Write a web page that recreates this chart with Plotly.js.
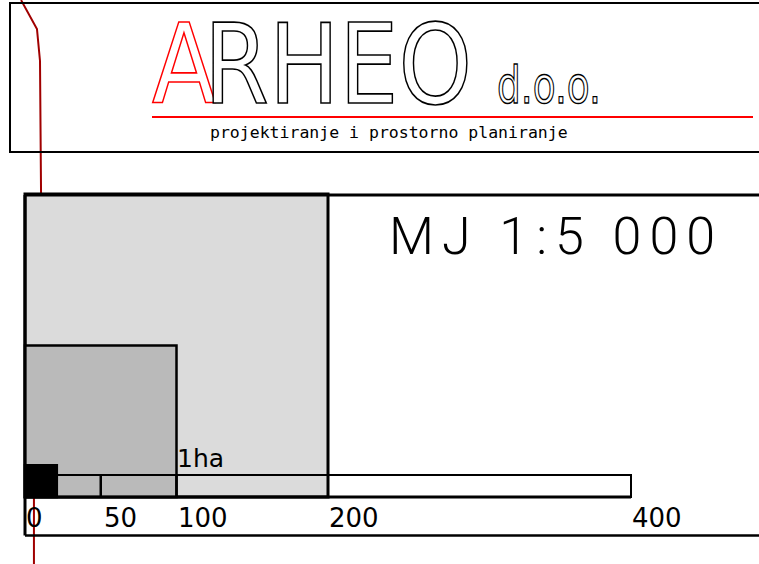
<!DOCTYPE html>
<html><head><meta charset="utf-8">
<script src="https://cdn.plot.ly/plotly-3.0.1.min.js"></script>
<style>
html,body{margin:0;padding:0;background:#fff;}
#chart{width:759px;height:564px;}
.annotation[data-index="0"] text{fill:#fff !important;stroke:#000;stroke-width:1.7px;transform-box:fill-box;transform-origin:0 50%;transform:scaleX(0.85);}
.annotation[data-index="0"] tspan{fill:#fff !important;}
.annotation[data-index="0"] tspan[style*="fill"]{stroke:#ff0000;letter-spacing:-14px;}
.annotation[data-index="1"] text{fill:#fff !important;stroke:#000;stroke-width:1.4px;transform-box:fill-box;transform-origin:0 50%;transform:scaleX(0.72);}
.annotation[data-index="3"] text{letter-spacing:8px;}
</style></head><body><div id="chart"></div>
<script>
// ---- data (metres) ----
const squareSides = [200, 100, 21];            // 4 ha, 1 ha and small reference square
const squareFills = ['#dbdbdb', '#bababa', '#000000'];
const scaleTicks = [0, 50, 100, 200, 400];
const scaleTickLabels = ['0', '50', '100', '200', '400'];
const barDividers = [50, 100];
const barLength = 400;
const barHeight = 14.5;
const areaLabel = '1ha';
const areaLabelPos = [100, 25.3];
const boundaryX = [-2.6, 7.9, 9.9, 10.6, 5.9, 5.9];
const boundaryY = [328, 308.9, 287.8, 199.3, 0, -44.5];

// ---- layout helpers (pixel -> paper) ----
const W = 759, H = 564, K = 1.515, X0 = 25, Y0 = 497;
const px = p => p / W, py = p => 1 - p / H;

const shapes = [];
// header frame
shapes.push({type:'rect', xref:'paper', yref:'paper', x0:px(10), x1:px(790), y0:py(152), y1:py(3), line:{color:'#000', width:2}});
shapes.push({type:'line', xref:'paper', yref:'paper', x0:px(152), x1:px(753), y0:py(117), y1:py(117), line:{color:'#ff0000', width:2}});
// squares
squareSides.forEach((s, i) => shapes.push({type:'rect', xref:'x', yref:'y', x0:0, x1:s, y0:0, y1:s,
  fillcolor:squareFills[i], line:{color:'#000', width: i === 0 ? 3 : 2.5}, layer:'above'}));
// scale bar
shapes.push({type:'rect', xref:'x', yref:'y', x0:0, x1:barLength, y0:0, y1:barHeight, line:{color:'#000', width:2}, layer:'above'});
barDividers.forEach(d => shapes.push({type:'line', xref:'x', yref:'y', x0:d, x1:d, y0:0, y1:barHeight, line:{color:'#000', width:2.5}, layer:'above'}));
shapes.push({type:'line', xref:'x', yref:'y', x0:0, x1:barLength, y0:0, y1:0, line:{color:'#000', width:3}, layer:'above'});
// lower frame
shapes.push({type:'line', xref:'paper', yref:'paper', x0:px(25), x1:px(790), y0:py(195), y1:py(195), line:{color:'#000', width:3}, layer:'above'});
shapes.push({type:'line', xref:'paper', yref:'paper', x0:px(25), x1:px(25), y0:py(195), y1:py(535.5), line:{color:'#000', width:3}, layer:'above'});
shapes.push({type:'line', xref:'paper', yref:'paper', x0:px(25), x1:px(790), y0:py(535.5), y1:py(535.5), line:{color:'#000', width:2.5}, layer:'above'});

const annotations = [
  {text:'<span style="color:#ff0000">A</span>RHEO', xref:'paper', yref:'paper', x:px(145), y:py(1), xanchor:'left', yanchor:'top', showarrow:false,
   font:{family:'DejaVu Sans', size:110, color:'#000'}},
  {text:'d.o.o.', xref:'paper', yref:'paper', x:px(497), y:py(54.7), xanchor:'left', yanchor:'top', showarrow:false,
   font:{family:'DejaVu Sans', size:52, color:'#000'}},
  {text:'projektiranje i prostorno planiranje', xref:'paper', yref:'paper', x:px(210), y:py(132), xanchor:'left', yanchor:'middle', showarrow:false,
   font:{family:'DejaVu Sans Mono', size:16.5, color:'#000'}},
  {text:'MJ 1:5 000', xref:'paper', yref:'paper', x:px(556), y:py(236.5), xanchor:'center', yanchor:'middle', showarrow:false,
   font:{family:'Roboto', size:52, color:'#000', weight:300}},
  {text:areaLabel, xref:'x', yref:'y', x:areaLabelPos[0], y:areaLabelPos[1], xanchor:'left', yanchor:'middle', showarrow:false,
   font:{family:'DejaVu Sans', size:25, color:'#000'}}
];
scaleTicks.forEach((t, i) => annotations.push({text:scaleTickLabels[i], xref:'x', yref:'y', x:t, y:-13.9, xshift: t === 50 ? 3 : 1,
  xanchor:'left', yanchor:'middle', showarrow:false, font:{family:'DejaVu Sans', size:26, color:'#000'}}));
annotations.forEach(a => { a.borderpad = 0; a.borderwidth = 0; });

const traces = [{x:boundaryX, y:boundaryY, mode:'lines', line:{color:'#a00000', width:2}, hoverinfo:'skip', showlegend:false}];

const layout = {
  width:W, height:H, margin:{l:0, r:0, t:0, b:0, pad:0},
  paper_bgcolor:'#fff', plot_bgcolor:'#fff', showlegend:false,
  xaxis:{range:[-X0 / K, (W - X0) / K], visible:false, fixedrange:true},
  yaxis:{range:[(Y0 - H) / K, Y0 / K], visible:false, fixedrange:true},
  shapes, annotations
};
Plotly.newPlot('chart', traces, layout, {displayModeBar:false, staticPlot:true});
</script></body></html>
